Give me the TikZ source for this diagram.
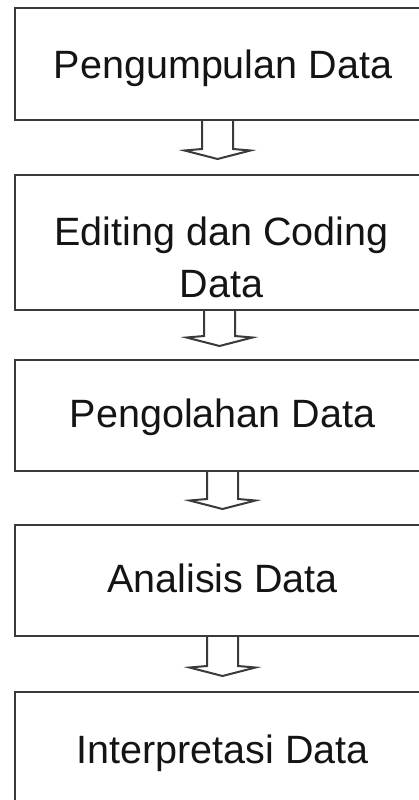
\documentclass[tikz,border=0pt]{standalone}
\usepackage{fontspec}
\setmainfont{Liberation Sans}
\usetikzlibrary{calc}

\definecolor{edge}{HTML}{3A3A3A}
\definecolor{ink}{HTML}{141414}

\tikzset{
  stagebox/.style={draw=edge, line width=2pt, fill=white, rectangle,
    minimum width=415pt, inner sep=0pt},
  stagetext/.style={text=ink, anchor=base, inner sep=0pt, align=center,
    font=\fontsize{39.5}{51.5}\selectfont},
  hollowarrow/.style={draw=edge, line width=2pt, fill=white, line join=miter},
}

% hollow block arrow hanging below a box
% #1 box name, #2 horizontal offset, #3 stem length, #4 name of the tip
\newcommand\blockarrow[4]{%
  \path (#1.south) ++(#2,0) coordinate (#4-root);
  \coordinate (#4) at ($(#4-root)+(0,#3+10)$);
  \draw[hollowarrow]
    ($(#4-root)+(-15.5,0)$) -- ($(#4-root)+(-15.5,#3)$)
    -- ($(#4-root)+(-33,#3+1.5)$) -- (#4)
    -- ($(#4-root)+(33,#3+1.5)$) -- ($(#4-root)+(15.5,#3)$)
    -- ($(#4-root)+(15.5,0)$);
}

\begin{document}
\begin{tikzpicture}[x=1pt, y=-1pt]
  \clip (0,0) rectangle (419,800);
  \fill[white] (0,0) rectangle (419,800);

  % process stages
  \node[stagebox, minimum height=112pt] (collect)   at (222.5,64)    {};
  \node[stagebox, minimum height=135pt] (edit)      at (222.5,242.5) {};
  \node[stagebox, minimum height=111pt] (process)   at (222.5,415.5) {};
  \node[stagebox, minimum height=111pt] (analyse)   at (222.5,580.5) {};
  \node[stagebox, minimum height=114pt] (interpret) at (222.5,749)   {};

  % stage labels (base of a two-line label is its last line)
  \node[stagetext] (collect-t)   at (223,78)    {Pengumpulan Data};
  \node[stagetext] (edit-t)      at (221.5,297) {Editing dan Coding\\Data};
  \node[stagetext] (process-t)   at (222.5,427) {Pengolahan Data};
  \node[stagetext] (analyse-t)   at (222.5,592) {Analisis Data};
  \node[stagetext] (interpret-t) at (222.5,763) {Interpretasi Data};

  % flow between stages
  \blockarrow{collect}{-5}{28}{tipA}
  \blockarrow{edit}{-3}{25}{tipB}
  \blockarrow{process}{0}{27}{tipC}
  \blockarrow{analyse}{0}{29}{tipD}
\end{tikzpicture}
\end{document}
